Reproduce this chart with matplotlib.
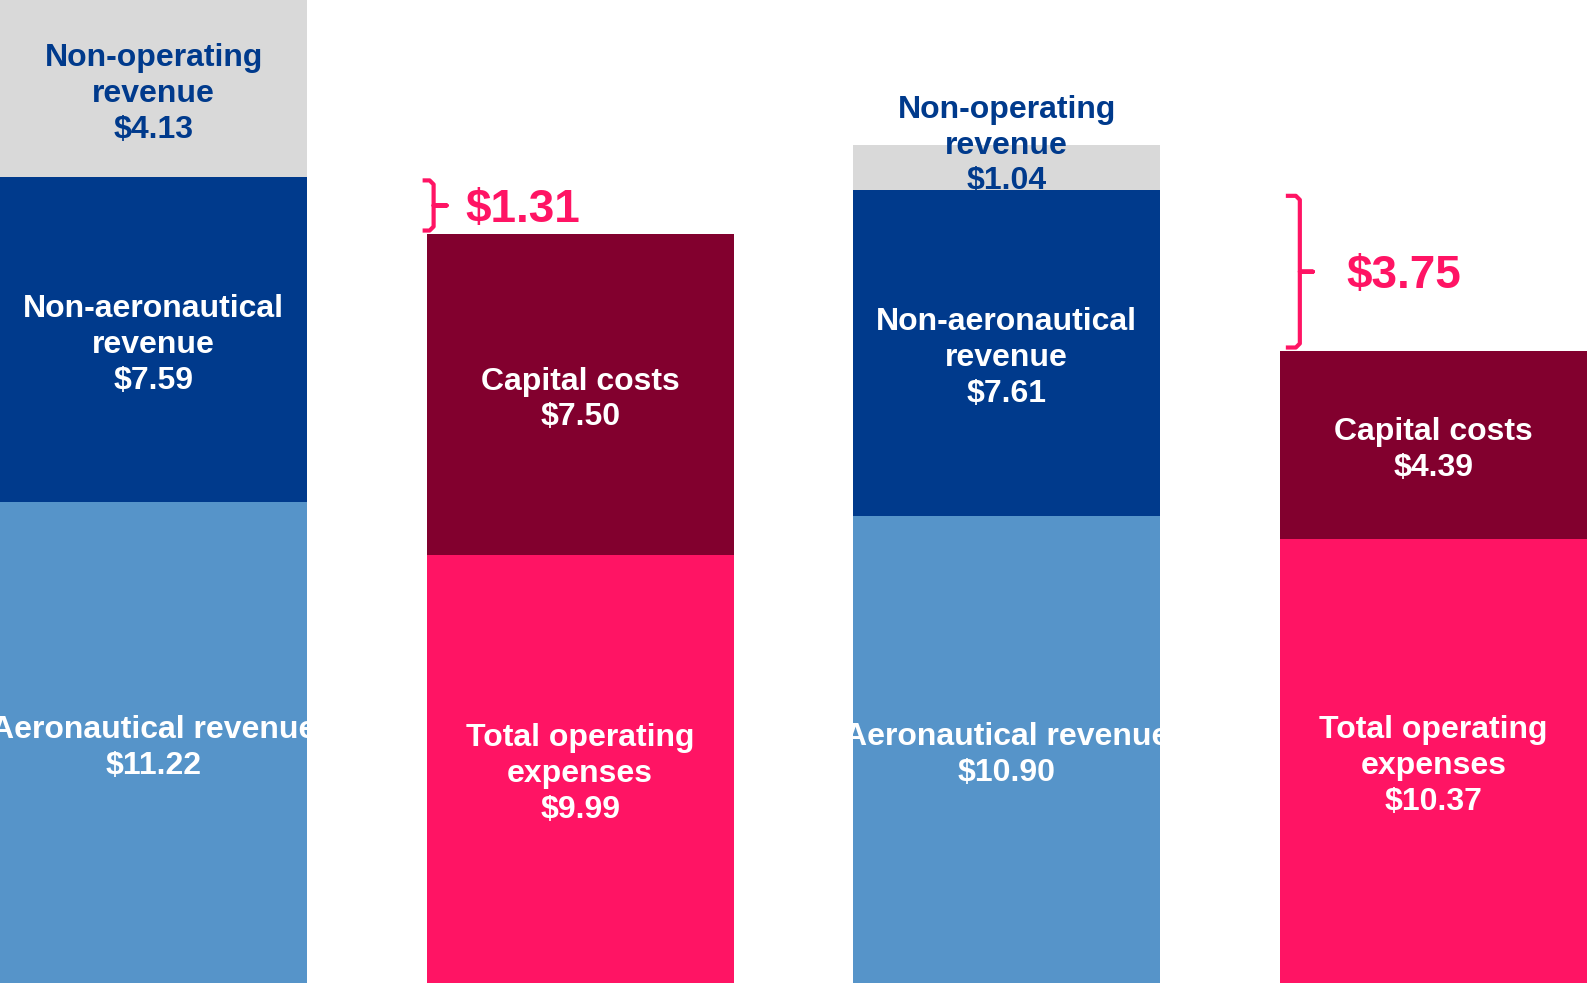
import matplotlib
matplotlib.use("Agg")
import matplotlib.pyplot as plt
from matplotlib.lines import Line2D

# ---- data ----
rev_pos = [0, 2]
exp_pos = [1, 3]
aero = [11.22, 10.90]
nonaero = [7.59, 7.61]
nonop = [4.13, 1.04]
opex = [9.99, 10.37]
capital = [7.50, 4.39]
gaps = [1.31, 3.75]

# ---- style ----
C_AERO = "#5694C9"
C_NONAERO = "#003A8C"
C_NONOP = "#D9D9D9"
C_OPEX = "#FF1464"
C_CAP = "#82002E"
FONT = "Liberation Sans"
FS = 23
W = 0.72

fig = plt.figure(figsize=(15.87, 9.83), dpi=100)
ax = fig.add_axes([0, 0, 1, 1])
ax.set_xlim(-0.36, 3.36)
ax.set_ylim(0, sum([aero[0], nonaero[0], nonop[0]]))
ax.axis("off")

PX = 1587 / 3.72  # pixels per x unit
PY = 983 / ax.get_ylim()[1]
BASE_DY = -3.8  # points

def label(x, y, text, color="white", z=3, dy_pt=0):
    ax.annotate(text, xy=(x, y), xytext=(0, dy_pt + BASE_DY), textcoords="offset points",
                ha="center", va="center", color=color, fontsize=FS,
                fontweight="bold", family=FONT, linespacing=1.25, zorder=z)

# revenue bars
ax.bar(rev_pos, aero, W, color=C_AERO, zorder=2)
ax.bar(rev_pos, nonaero, W, bottom=aero, color=C_NONAERO, zorder=2)
b2 = [a + n for a, n in zip(aero, nonaero)]
ax.bar(rev_pos, nonop, W, bottom=b2, color=C_NONOP, zorder=1)

# expense bars
ax.bar(exp_pos, opex, W, color=C_OPEX, zorder=2)
ax.bar(exp_pos, capital, W, bottom=opex, color=C_CAP, zorder=2)

for i, x in enumerate(rev_pos):
    label(x, aero[i] / 2, f"Aeronautical revenue\n${aero[i]:.2f}")
    label(x, aero[i] + nonaero[i] / 2, f"Non-aeronautical\nrevenue\n${nonaero[i]:.2f}")
    dy = 0 if i == 0 else 19.5
    label(x, b2[i] + nonop[i] / 2, f"Non-operating\nrevenue\n${nonop[i]:.2f}",
          color=C_NONAERO, z=1.5, dy_pt=dy)

for i, x in enumerate(exp_pos):
    label(x, opex[i] / 2, f"Total operating\nexpenses\n${opex[i]:.2f}")
    label(x, opex[i] + capital[i] / 2, f"Capital costs\n${capital[i]:.2f}")

# brackets (offsets in pixels from bar left edge)
br_off = [(-4, 7, 20, 39), (6, 20, 33, 67)]
br_inset = [(3, 3), (6, 3)]  # (top, bottom) pixels
for i, x in enumerate(exp_pos):
    left = x - W / 2
    bot = opex[i] + capital[i]
    top = bot + gaps[i]
    t = top - br_inset[i][0] / PY
    b = bot + br_inset[i][1] / PY
    mid = (t + b) / 2
    xh, xv, xn, xl = [left + o / PX for o in br_off[i]]
    r = 4 / PY
    rx = 4 / PX
    xs = [xh, xv - rx, xv, xv, xv, xn, xv, xv, xv, xv - rx, xh]
    ys = [t, t, t - r, mid, mid, mid, mid, mid, b + r, b, b]
    ax.add_line(Line2D(xs, ys, color=C_OPEX, lw=3, solid_joinstyle="round",
                       solid_capstyle="butt", zorder=4))
    ax.annotate(f"${gaps[i]:.2f}", xy=(xl, mid), xytext=(0, -3), textcoords="offset points",
                ha="left", va="center", color=C_OPEX,
                fontsize=33, fontweight="bold", family=FONT, zorder=4)

fig.savefig("out.png", dpi=100)
